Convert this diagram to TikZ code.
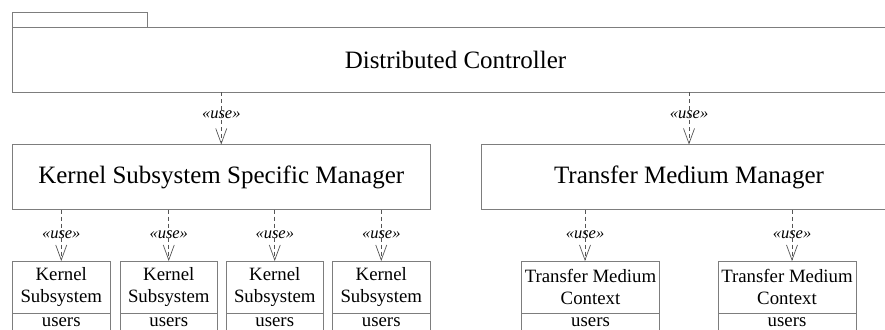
\documentclass[tikz,border=0pt]{standalone}
\usepackage{fontspec}
\setmainfont{Liberation Serif}
\usetikzlibrary{arrows.meta,calc}
\definecolor{boxline}{RGB}{125,125,125}
\definecolor{depline}{RGB}{85,85,85}
\begin{document}
\begin{tikzpicture}[x=1pt,y=-1pt,
  box/.style={draw=boxline,line width=0.8pt,inner sep=0pt,outer sep=0pt,align=center},
  bigtext/.style={font=\fontsize{25}{29}\selectfont},
  smalltext/.style={font=\fontsize{18.8}{22}\selectfont},
  dep/.style={draw=depline,line width=0.7pt,dash pattern=on 4pt off 3pt,
    -{Straight Barb[length=15pt,width=11pt,line width=0.7pt]}},
  uselabel/.style={font=\fontsize{16.5}{19}\itshape\selectfont,inner sep=0pt}
]
\useasboundingbox (0,0) rectangle (885,329);
\clip (0,0) rectangle (885,329);

% package
\node[box,bigtext,anchor=north west,minimum width=886pt,minimum height=65pt] (dc) at (12.5,27) {Distributed Controller};
\node[box,anchor=south west,minimum width=134.5pt,minimum height=14.5pt] (tab) at (dc.north west) {};

% managers
\node[box,bigtext,anchor=north west,minimum width=417.5pt,minimum height=65pt] (ksm) at (12.5,144.5) {Kernel Subsystem Specific Manager};
\node[box,bigtext,anchor=north west,minimum width=416pt,minimum height=65pt] (tmm) at (481,144.5) {Transfer Medium Manager};

% kernel subsystems
\foreach \i/\x in {1/12.5,2/120,3/226,4/332.5}{
  \node[box,smalltext,anchor=north west,minimum width=97.5pt,minimum height=52pt] (ks\i) at (\x,261) {Kernel\\Subsystem};
  \node[box,smalltext,anchor=north,minimum width=97.5pt,minimum height=18pt] (ks\i u) at (ks\i.south) {users};
}
% transfer medium contexts
\foreach \i/\x in {1/521.5,2/718}{
  \node[box,smalltext,anchor=north west,minimum width=138pt,minimum height=52pt] (tc\i) at (\x,261) {Transfer Medium\\Context};
  \node[box,smalltext,anchor=north,minimum width=138pt,minimum height=18pt] (tc\i u) at (tc\i.south) {users};
}

% dependencies
\draw[dep] (dc.south -| ksm.north) -- (ksm.north);
\node[uselabel] (u1) at ($(dc.south -| ksm.north)+(0,22.5)$) {«use»};
\draw[dep] (dc.south -| tmm.north) -- (tmm.north);
\node[uselabel] (u2) at ($(dc.south -| tmm.north)+(0,22.5)$) {«use»};

\foreach \i in {1,2,3,4}{
  \draw[dep] (ksm.south -| ks\i.north) -- (ks\i.north);
  \node[uselabel] (uk\i) at ($(ksm.south -| ks\i.north)+(0,25.5)$) {«use»};
}
\coordinate (t1) at ($(tc1.north)+(-5.5,0)$);
\coordinate (t2) at ($(tc2.north)+(5,0)$);
\foreach \i in {1,2}{
  \draw[dep] (tmm.south -| t\i) -- (t\i);
  \node[uselabel] (ut\i) at ($(tmm.south -| t\i)+(0,25.5)$) {«use»};
}
\end{tikzpicture}
\end{document}
